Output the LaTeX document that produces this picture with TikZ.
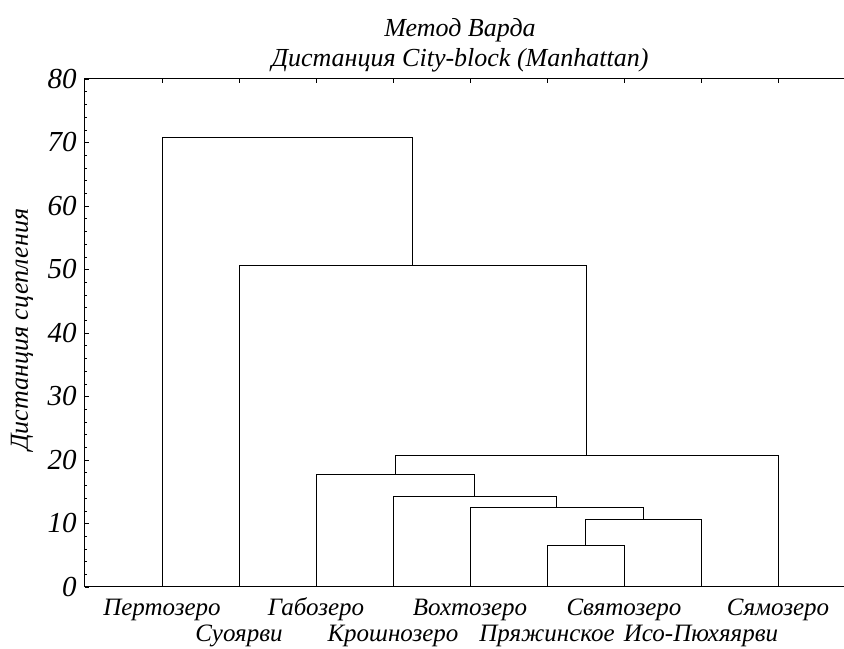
\documentclass[tikz,border=0pt]{standalone}
\usepackage{fontspec}
\setmainfont{Liberation Serif}
\usetikzlibrary{positioning,calc}

\begin{document}
\begin{tikzpicture}[x=1pt, y=6.35pt, line width=0.8pt,
		every node/.style={font=\itshape\fontsize{25}{28}\selectfont, inner sep=0pt},
		leafname/.style={anchor=base},
		ticklab/.style={anchor=east, font=\itshape\fontsize{29}{32}\selectfont},
		heading/.style={anchor=base, font=\itshape\fontsize{26}{30}\selectfont},
		link/.style={line width=0.8pt}]
		\useasboundingbox (-85,-9.764) rectangle (759,92.44);
		\draw[line width=1pt] (759,80) -- (0,80) -- (0,0) -- (759,0);
		\foreach \v in {0,2,...,80}
			\draw[line width=0.5pt] (0,\v) -- ++(2,0);
		\foreach \v in {0,10,...,80} {
			\draw[line width=0.6pt] (0,\v) -- ++(4,0);
			\node[ticklab] (t\v) at (-8,\v) {\v};
		}
		\node[rotate=90, font=\itshape\fontsize{26}{30}\selectfont] (ylab) at (-63,40.5) {Дистанция сцепления};
		\node[heading] (title) at (375,86.7) {Метод Варда};
		\node[heading] (subtitle) at ([yshift=-30pt]title.base) {Дистанция City-block (Manhattan)};
		\foreach \name/\i in {pert/1,suo/2,gab/3,krosh/4,voh/5,pryazh/6,svyat/7,iso/8,syam/9} {
			\coordinate (\name) at (\i*77,0);
			\draw[line width=0.6pt] (\i*77,80) -- ++(0,-4pt);
		}
		\coordinate (j1) at ($(pryazh)!.5!(svyat)+(0,6.5)$);
		\coordinate (j2) at ($(j1|-0,0)!.5!(iso)+(0,10.7)$);
		\coordinate (j3) at ($(voh)!.5!(j2|-0,0)+(0,12.6)$);
		\coordinate (j4) at ($(krosh)!.5!(j3|-0,0)+(0,14.2)$);
		\coordinate (j5) at ($(gab)!.5!(j4|-0,0)+(0,17.8)$);
		\coordinate (j6) at ($(j5|-0,0)!.5!(syam)+(0,20.8)$);
		\coordinate (j7) at ($(suo)!.5!(j6|-0,0)+(0,50.7)$);
		\coordinate (j8) at ($(pert)!.5!(j7|-0,0)+(0,70.8)$);
		\draw[link] (pryazh) |- (j1) -| (svyat);
		\draw[link] (j1) |- (j2) -| (iso);
		\draw[link] (voh) |- (j3) -| (j2);
		\draw[link] (krosh) |- (j4) -| (j3);
		\draw[link] (gab) |- (j5) -| (j4);
		\draw[link] (j5) |- (j6) -| (syam);
		\draw[link] (suo) |- (j7) -| (j6);
		\draw[link] (pert) |- (j8) -| (j7);
		\node[leafname] (npert) at ([yshift=-29pt]pert) {Пертозеро};
		\node[leafname] (ngab) at ([yshift=-29pt]gab) {Габозеро};
		\node[leafname] (nvoh) at ([yshift=-29pt]voh) {Вохтозеро};
		\node[leafname] (nsvyat) at ([yshift=-29pt]svyat) {Святозеро};
		\node[leafname] (nsyam) at ([yshift=-29pt]syam) {Сямозеро};
		\node[leafname] (nsuo) at ([yshift=-55pt]suo) {Суоярви};
		\node[leafname] (nkrosh) at ([yshift=-55pt]krosh) {Крошнозеро};
		\node[leafname] (npryazh) at ([yshift=-55pt]pryazh) {Пряжинское};
		\node[leafname] (niso) at ([yshift=-55pt]iso) {Исо-Пюхяярви};
	\end{tikzpicture}
\end{document}
